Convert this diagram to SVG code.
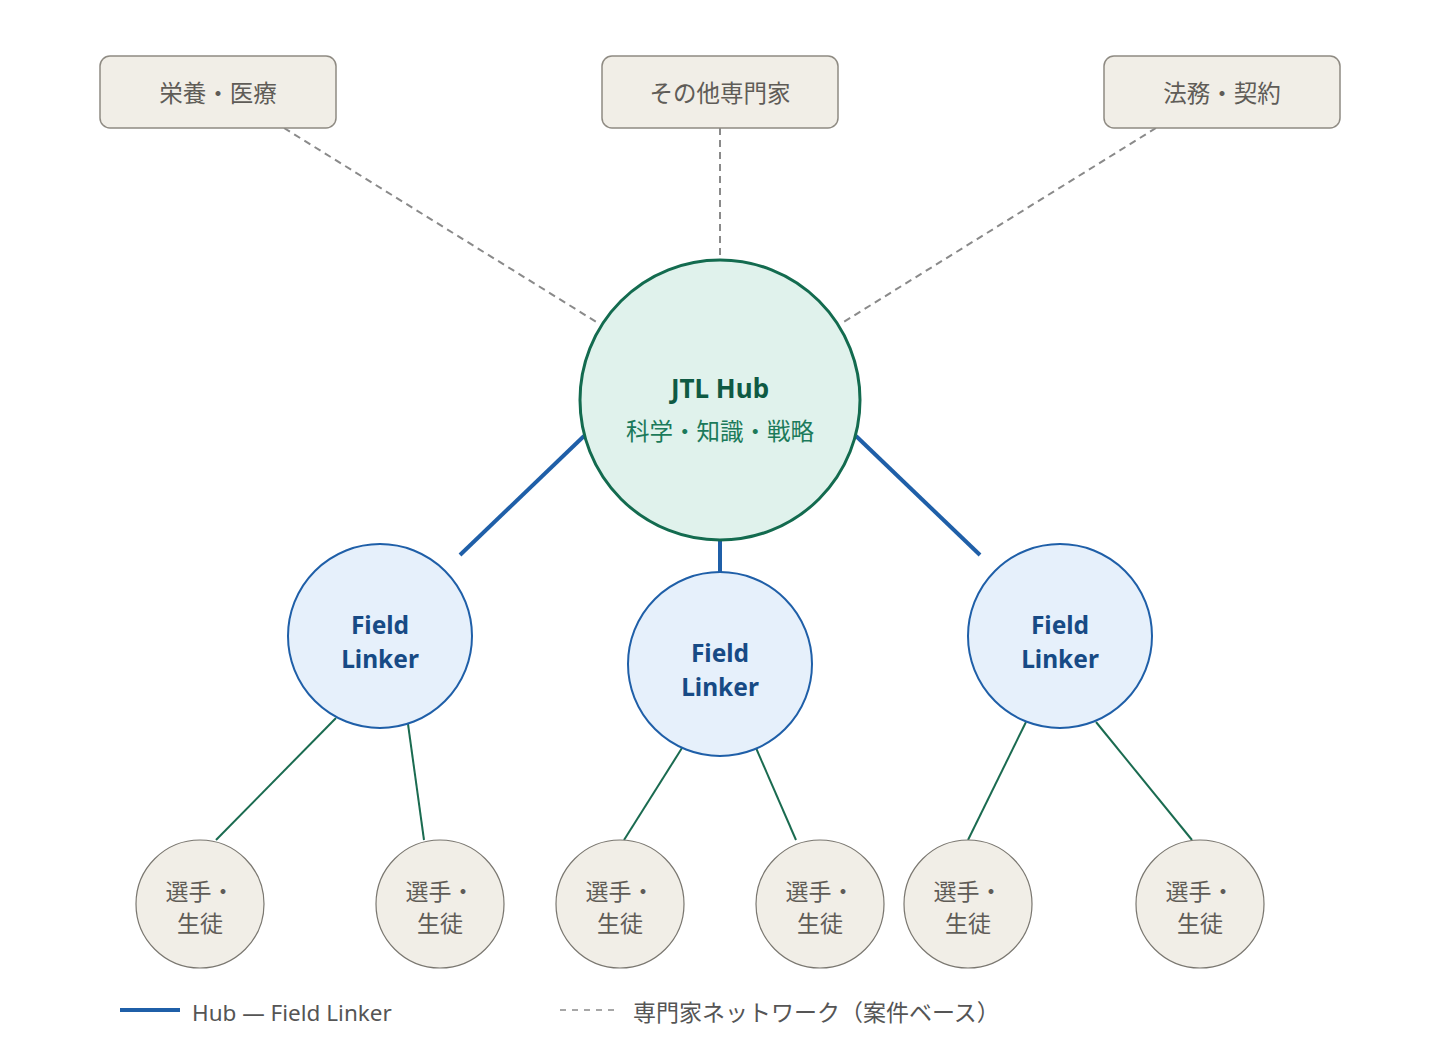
<svg xmlns="http://www.w3.org/2000/svg" width="1440" height="1060" viewBox="0 0 1440 1060">
<style>
text{font-family:"Noto Sans","Noto Sans CJK JP",sans-serif;text-anchor:middle;dominant-baseline:central}
.box{fill:#f1eee7;stroke:#8f8b83;stroke-width:1.5}
.boxt{font-size:23.5px;fill:#5f5c57}
.hub{fill:#e0f2ec;stroke:#136b4f;stroke-width:3}
.fl{fill:#e6f0fb;stroke:#1f5fa8;stroke-width:2}
.flt{font-size:24.5px;font-weight:bold;fill:#174a85}
.st{fill:#f1eee7;stroke:#7a7770;stroke-width:1.2}
.stt{font-size:23px;fill:#5f5c57}
.blue{stroke:#1f5fa8;stroke-width:4;fill:none}
.dash{stroke:#8a8a8a;stroke-width:2;stroke-dasharray:7 5;fill:none}
.green{stroke:#1a6b50;stroke-width:2;fill:none}
</style>
<rect width="1440" height="1060" fill="#ffffff"/>
<g id="connectors">
<line class="dash" x1="284" y1="128" x2="598" y2="323"/>
<line class="dash" x1="720" y1="128" x2="720" y2="258"/>
<line class="dash" x1="1156" y1="128" x2="842" y2="323"/>
<line class="blue" x1="584" y1="436" x2="460" y2="555"/>
<line class="blue" x1="720" y1="540" x2="720" y2="572"/>
<line class="blue" x1="856" y1="436" x2="980" y2="555"/>
<line class="green" x1="336" y1="718" x2="216" y2="840"/>
<line class="green" x1="408" y1="724" x2="424" y2="840"/>
<line class="green" x1="682" y1="748" x2="624" y2="840"/>
<line class="green" x1="756" y1="748" x2="796" y2="840"/>
<line class="green" x1="1026" y1="722" x2="968" y2="840"/>
<line class="green" x1="1096" y1="722" x2="1192" y2="840"/>
</g>
<g id="expert-nutrition"><rect class="box" x="100" y="56" width="236" height="72" rx="10"/><text class="boxt" x="218" y="93">栄養・医療</text></g>
<g id="expert-other"><rect class="box" x="602" y="56" width="236" height="72" rx="10"/><text class="boxt" x="720" y="93">その他専門家</text></g>
<g id="expert-legal"><rect class="box" x="1104" y="56" width="236" height="72" rx="10"/><text class="boxt" x="1222" y="93">法務・契約</text></g>
<g id="hub"><circle class="hub" cx="720" cy="400" r="140"/>
<text x="720" y="388" style="font-size:26px;font-weight:bold;fill:#0f5a43">JTL Hub</text>
<text x="720" y="431" style="font-size:23.5px;fill:#1b7a5a">科学・知識・戦略</text></g>
<g id="fl-left"><circle class="fl" cx="380" cy="636" r="92"/><text class="flt" x="380" y="624">Field</text><text class="flt" x="380" y="658">Linker</text></g>
<g id="fl-mid"><circle class="fl" cx="720" cy="664" r="92"/><text class="flt" x="720" y="652">Field</text><text class="flt" x="720" y="686">Linker</text></g>
<g id="fl-right"><circle class="fl" cx="1060" cy="636" r="92"/><text class="flt" x="1060" y="624">Field</text><text class="flt" x="1060" y="658">Linker</text></g>
<g id="st1"><circle class="st" cx="200" cy="904" r="64"/><text class="stt" x="200" y="891">選手・</text><text class="stt" x="200" y="923">生徒</text></g>
<g id="st2"><circle class="st" cx="440" cy="904" r="64"/><text class="stt" x="440" y="891">選手・</text><text class="stt" x="440" y="923">生徒</text></g>
<g id="st3"><circle class="st" cx="620" cy="904" r="64"/><text class="stt" x="620" y="891">選手・</text><text class="stt" x="620" y="923">生徒</text></g>
<g id="st4"><circle class="st" cx="820" cy="904" r="64"/><text class="stt" x="820" y="891">選手・</text><text class="stt" x="820" y="923">生徒</text></g>
<g id="st5"><circle class="st" cx="968" cy="904" r="64"/><text class="stt" x="968" y="891">選手・</text><text class="stt" x="968" y="923">生徒</text></g>
<g id="st6"><circle class="st" cx="1200" cy="904" r="64"/><text class="stt" x="1200" y="891">選手・</text><text class="stt" x="1200" y="923">生徒</text></g>
<g id="legend">
<line class="blue" x1="120" y1="1010" x2="180" y2="1010"/>
<text x="192" y="1012" style="font-size:22.5px;fill:#555;text-anchor:start">Hub — Field Linker</text>
<line class="dash" x1="560" y1="1010" x2="620" y2="1010" style="stroke-width:1.5;stroke-dasharray:6 6"/>
<text x="633" y="1012" style="font-size:23px;fill:#555;text-anchor:start">専門家ネットワーク（案件ベース）</text>
</g>
</svg>
